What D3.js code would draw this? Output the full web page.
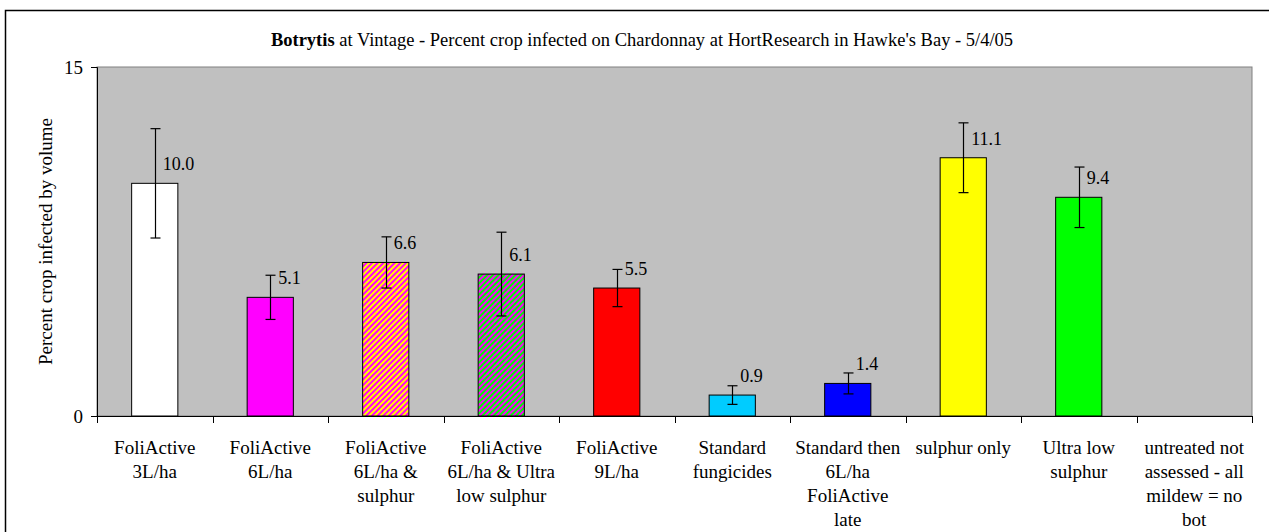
<!DOCTYPE html>
<html>
<head>
<meta charset="utf-8">
<script src="https://cdn.jsdelivr.net/npm/d3@7"></script>
<style>
  html, body { margin: 0; padding: 0; background: #fff; }
  svg { display: block; }
  svg text { font-family: "Liberation Serif", "DejaVu Serif", serif; }
</style>
</head>
<body>
<svg id="chart" width="1269" height="532"></svg>
<script>
// ---- data ----
const categories = [
  "FoliActive\n3L/ha",
  "FoliActive\n6L/ha",
  "FoliActive\n6L/ha &\nsulphur",
  "FoliActive\n6L/ha & Ultra\nlow sulphur",
  "FoliActive\n9L/ha",
  "Standard\nfungicides",
  "Standard then\n6L/ha\nFoliActive\nlate",
  "sulphur only",
  "Ultra low\nsulphur",
  "untreated not\nassessed - all\nmildew = no\nbot"
];
const values = [10.0, 5.1, 6.6, 6.1, 5.5, 0.9, 1.4, 11.1, 9.4, null];
const errors = [2.35, 0.95, 1.1, 1.8, 0.8, 0.4, 0.45, 1.5, 1.3, null];
const fills = ["#FFFFFF", "#FF00FF", "url(#patMY)", "url(#patGM)", "#FF0000", "#00CCFF", "#0000FF", "#FFFF00", "#00FF00", "none"];
const yTicks = [0, 15];
const yMax = 15;
const chartTitleBold = "Botrytis";
const chartTitleRest = " at Vintage - Percent crop infected on Chardonnay at HortResearch in Hawke's Bay - 5/4/05";
const yAxisTitle = "Percent crop infected by volume";

// ---- layout ----
const FONT = "Liberation Serif";
const plot = { left: 97, right: 1252, top: 67, bottom: 416 };
const svg = d3.select("#chart");

const defs = svg.append("defs");
function stripe(id, bg, fg) {
  const p = defs.append("pattern").attr("id", id).attr("patternUnits", "userSpaceOnUse")
    .attr("width", 4).attr("height", 4).attr("patternTransform", "rotate(45)");
  p.append("rect").attr("width", 4).attr("height", 4).attr("fill", bg);
  p.append("rect").attr("width", 2).attr("height", 4).attr("fill", fg);
}
stripe("patMY", "#FFFF00", "#FF00FF");
stripe("patGM", "#00FF00", "#FF00FF");

// outer frame
svg.append("rect").attr("x", 5.5).attr("y", 10.5).attr("width", 1300).attr("height", 600)
  .attr("fill", "#fff").attr("stroke", "#000").attr("stroke-width", 1.5);

const x = d3.scaleBand().domain(categories).range([plot.left, plot.right])
  .paddingInner(0.6).paddingOuter(0.3);
const y = d3.scaleLinear().domain([0, yMax]).range([plot.bottom, plot.top]);

// plot area
svg.append("rect").attr("x", plot.left).attr("y", plot.top)
  .attr("width", plot.right - plot.left).attr("height", plot.bottom - plot.top)
  .attr("fill", "#C0C0C0").attr("stroke", "#808080").attr("stroke-width", 1);

// title
const t = svg.append("text").attr("x", 642).attr("y", 46).attr("text-anchor", "middle")
  .attr("font-family", FONT).attr("font-size", 18.5).attr("fill", "#000");
t.append("tspan").attr("font-weight", "bold").text(chartTitleBold);
t.append("tspan").text(chartTitleRest);

// bars
const data = categories.map((c, i) => ({ c, v: values[i], e: errors[i], f: fills[i] }));
const barData = data.filter(d => d.v != null);
svg.append("g").selectAll("rect").data(barData).join("rect")
  .attr("x", d => x(d.c)).attr("width", x.bandwidth())
  .attr("y", d => y(d.v)).attr("height", d => y(0) - y(d.v))
  .attr("fill", d => d.f).attr("stroke", "#000").attr("stroke-width", 1);

// error bars
const eg = svg.append("g").attr("stroke", "#000").attr("stroke-width", 1.2);
barData.forEach(d => {
  const cx = Math.round(x(d.c) + x.bandwidth() / 2) + 0.5;
  eg.append("line").attr("x1", cx).attr("x2", cx).attr("y1", y(d.v + d.e)).attr("y2", y(d.v - d.e));
  [d.v + d.e, d.v - d.e].forEach(v => {
    eg.append("line").attr("x1", cx - 5).attr("x2", cx + 5).attr("y1", y(v)).attr("y2", y(v));
  });
});

// value labels
svg.append("g").selectAll("text").data(barData).join("text")
  .attr("x", d => x(d.c) + x.bandwidth() / 2 + 8)
  .attr("y", d => y(d.v) - 13)
  .attr("font-family", FONT).attr("font-size", 18).attr("fill", "#000")
  .text(d => d3.format(".1f")(d.v));

// y axis
const yAxis = svg.append("g").attr("transform", `translate(${plot.left},0)`)
  .call(d3.axisLeft(y).tickValues(yTicks).tickSize(6).tickPadding(8).tickFormat(d3.format("d")));
yAxis.attr("font-family", FONT);
yAxis.select(".domain").attr("stroke", "#000");
yAxis.selectAll(".tick line").attr("stroke", "#000");
yAxis.selectAll("text").attr("font-size", 19).attr("font-family", FONT).attr("fill", "#000");

// x axis line and boundary ticks
const step = x.step();
const bounds = categories.map(c => x(c) + x.bandwidth() / 2 - step / 2).concat([plot.right]);
const xg = svg.append("g");
xg.append("line").attr("x1", plot.left).attr("x2", plot.right).attr("y1", plot.bottom + 0.5).attr("y2", plot.bottom + 0.5)
  .attr("stroke", "#000");
xg.selectAll("line.tk").data(bounds).join("line").attr("class", "tk")
  .attr("x1", d => Math.round(d) + 0.5).attr("x2", d => Math.round(d) + 0.5)
  .attr("y1", plot.bottom).attr("y2", plot.bottom + 7).attr("stroke", "#000");

// category labels
const cl = svg.append("g").attr("font-family", FONT).attr("font-size", 19)
  .attr("text-anchor", "middle").attr("fill", "#000");
categories.forEach(c => {
  const tx = cl.append("text").attr("x", x(c) + x.bandwidth() / 2).attr("y", 454);
  c.split("\n").forEach((line, i) => {
    tx.append("tspan").attr("x", x(c) + x.bandwidth() / 2).attr("dy", i === 0 ? 0 : 24).text(line);
  });
});

// y axis title
svg.append("text").attr("transform", "translate(45,241.5) rotate(-90)")
  .attr("text-anchor", "middle").attr("dy", "0.35em")
  .attr("font-family", FONT).attr("font-size", 19).attr("fill", "#000")
  .text(yAxisTitle);
</script>
</body>
</html>
